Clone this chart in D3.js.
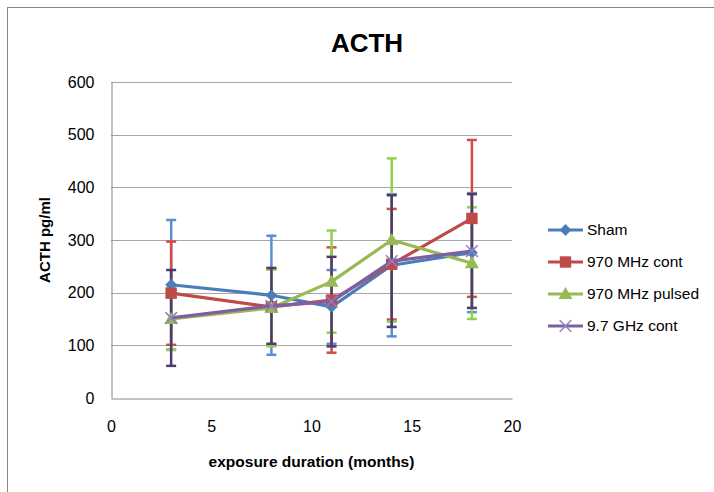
<!DOCTYPE html>
<html>
<head>
<meta charset="utf-8">
<script src="https://cdn.jsdelivr.net/npm/d3@7"></script>
<style>
    body { margin: 0; background: #fff; }
    text { font-family: "Liberation Sans", Arial, sans-serif; fill: #000; }
</style>
</head>
<body>
<svg id="chart" width="714" height="492"></svg>
<script>
// values
const months = [3, 8, 11, 14, 18];
const xTicks = [0, 5, 10, 15, 20];
const yTicks = [0, 100, 200, 300, 400, 500, 600];

const seriesNames = ["Sham", "970 MHz cont", "970 MHz pulsed", "9.7 GHz cont"];
const shamMean = [215, 195, 173, 252, 276];
const shamErr = [123, 113, 70, 135, 113];
const cont970Mean = [199, 173, 186, 254, 341];
const cont970Err = [98, 72, 100, 105, 149];
const pulsed970Mean = [150, 171, 221, 300, 256];
const pulsed970Err = [59, 73, 97, 155, 106];
const ghzMean = [152, 175, 183, 260, 279];
const ghzErr = [91, 72, 85, 125, 108];

const series = [
    { name: seriesNames[0], mean: shamMean, err: shamErr, line: "#4a7ebb", bar: "#5b8fd3", symbol: "diamond" },
    { name: seriesNames[1], mean: cont970Mean, err: cont970Err, line: "#be4b48", bar: "#cf4c49", symbol: "square" },
    { name: seriesNames[2], mean: pulsed970Mean, err: pulsed970Err, line: "#98b954", bar: "#92d050", symbol: "triangle" },
    { name: seriesNames[3], mean: ghzMean, err: ghzErr, line: "#7d60a0", bar: "#4f3b6e", symbol: "x" }
];

const svg = d3.select("#chart");

// outer chart border (right/bottom fall outside the window)
svg.append("rect")
    .attr("x", 7.5).attr("y", 7.5)
    .attr("width", 740).attr("height", 520)
    .attr("fill", "none")
    .attr("stroke", "#868686");

const x = d3.scaleLinear().domain([0, 20]).range([111, 512]);
const y = d3.scaleLinear().domain([0, 600]).range([398, 82]);

// gridlines
svg.append("g")
    .selectAll("line")
    .data(yTicks.filter(t => t > 0))
    .join("line")
    .attr("x1", x(0)).attr("x2", x(20))
    .attr("y1", t => Math.round(y(t)) + 0.5).attr("y2", t => Math.round(y(t)) + 0.5)
    .attr("stroke", "#a6a6a6");

// axes
const yAxis = svg.append("g")
    .attr("transform", `translate(${x(0) + 0.5},0)`)
    .call(d3.axisLeft(y).tickValues(yTicks).tickSize(0).tickPadding(17));
const xAxis = svg.append("g")
    .attr("transform", `translate(0,${Math.round(y(0)) + 0.5})`)
    .call(d3.axisBottom(x).tickValues(xTicks).tickSize(0).tickPadding(22));

[xAxis, yAxis].forEach(axis => {
    axis.select(".domain").attr("stroke", "#868686");
    axis.selectAll("text").attr("font-size", 16).attr("font-family", "Liberation Sans, Arial, sans-serif").attr("fill", "#000");
});

// error bars
const capHalf = 5;
series.forEach(s => {
    const g = svg.append("g").attr("stroke", s.bar).attr("stroke-width", 2.5);
    months.forEach((m, i) => {
        const cx = x(m), top = y(s.mean[i] + s.err[i]), bottom = y(s.mean[i] - s.err[i]);
        g.append("line").attr("x1", cx).attr("x2", cx).attr("y1", top).attr("y2", bottom);
        g.append("line").attr("x1", cx - capHalf).attr("x2", cx + capHalf).attr("y1", top).attr("y2", top);
        g.append("line").attr("x1", cx - capHalf).attr("x2", cx + capHalf).attr("y1", bottom).attr("y2", bottom);
    });
});

function marker(sel, s, cx, cy) {
    if (s.symbol === "diamond") {
        sel.append("path").attr("d", d3.symbol(d3.symbolSquare, 70)())
            .attr("transform", `translate(${cx},${cy}) rotate(45)`)
            .attr("fill", s.line);
    } else if (s.symbol === "square") {
        sel.append("path").attr("d", d3.symbol(d3.symbolSquare, 130)())
            .attr("transform", `translate(${cx},${cy})`)
            .attr("fill", s.line);
    } else if (s.symbol === "triangle") {
        sel.append("path").attr("d", d3.symbol(d3.symbolTriangle, 85)())
            .attr("transform", `translate(${cx},${cy + 1})`)
            .attr("fill", s.line);
    } else {
        sel.append("path").attr("d", d3.symbol(d3.symbolX, 90)())
            .attr("transform", `translate(${cx},${cy})`)
            .attr("fill", "none")
            .attr("stroke", "#8c7fc4")
            .attr("stroke-width", 1.5);
    }
}

const line = d3.line().x(d => x(d[0])).y(d => y(d[1]));

series.forEach(s => {
    const pts = months.map((m, i) => [m, s.mean[i]]);
    svg.append("path")
        .attr("d", line(pts))
        .attr("fill", "none")
        .attr("stroke", s.line)
        .attr("stroke-width", 3.2)
        .attr("stroke-linejoin", "round");
    const mg = svg.append("g");
    pts.forEach(p => marker(mg, s, x(p[0]), y(p[1])));
});

// legend
const legend = svg.append("g");
series.forEach((s, i) => {
    const ly = 230 + i * 32;
    legend.append("line")
        .attr("x1", 548).attr("x2", 583)
        .attr("y1", ly).attr("y2", ly)
        .attr("stroke", s.line).attr("stroke-width", 3.2);
    marker(legend, s, 565.5, ly);
    legend.append("text")
        .attr("x", 587).attr("y", ly)
        .attr("dy", "0.35em")
        .attr("font-size", 15.5)
        .text(s.name);
});

// titles
svg.append("text")
    .attr("x", 367).attr("y", 52)
    .attr("text-anchor", "middle")
    .attr("font-size", 26).attr("font-weight", "bold")
    .text("ACTH");

svg.append("text")
    .attr("x", (x(0) + x(20)) / 2).attr("y", 467)
    .attr("text-anchor", "middle")
    .attr("font-size", 15.5).attr("font-weight", "bold")
    .text("exposure duration (months)");

svg.append("text")
    .attr("transform", `translate(50,${(y(0) + y(600)) / 2}) rotate(-90)`)
    .attr("text-anchor", "middle")
    .attr("font-size", 15).attr("font-weight", "bold")
    .text("ACTH pg/ml");
</script>
</body>
</html>
